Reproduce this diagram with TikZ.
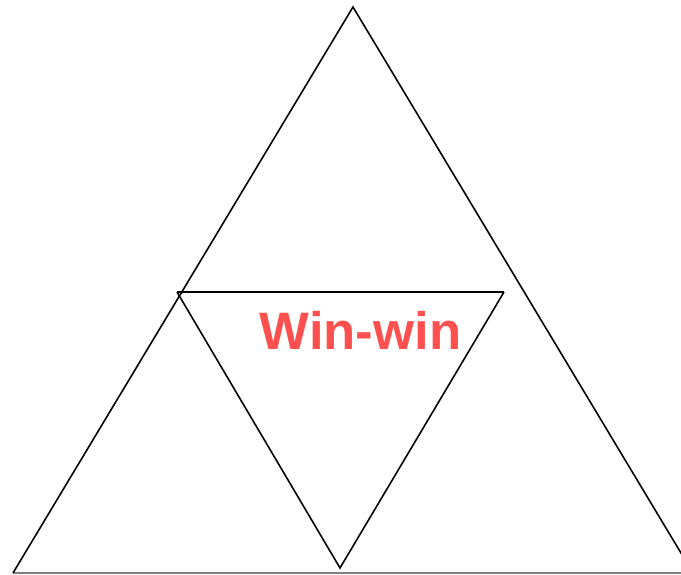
\documentclass[tikz,border=0pt]{standalone}
\usepackage{fontspec}
\setmainfont{Liberation Sans}
\usepackage{xcolor}
\usetikzlibrary{positioning, calc}
\definecolor{winred}{RGB}{255,80,80}

\begin{document}
\begin{tikzpicture}[x=0.02cm, y=-0.02cm]
    % Canvas
    \useasboundingbox (0,0) rectangle (681,575);
    \clip (0,0) rectangle (681,575);

    % Outer triangle vertices
    \coordinate (Top) at (353,7);
    \coordinate (BL) at (13,573);
    \coordinate (BR) at (693,573);

    % Inner triangle vertices
    \coordinate (IL) at (177,292);
    \coordinate (IR) at (504,292);
    \coordinate (IB) at (340,568);

    % Base line
    \draw[gray, line width=0.8pt] (BL) -- (681,573);

    % Outer sides
    \draw[line width=0.9pt] (BL) -- (Top) -- (BR);

    % Inner triangle
    \draw[line width=1.5pt] (IL) -- (IR);
    \draw[line width=0.9pt] (IL) -- (IB) -- (IR);

    % Label
    \node[text=winred, font=\bfseries\fontsize{30}{36}\selectfont, inner sep=0pt] (label) at (360.5,330) {Win-win};
\end{tikzpicture}
\end{document}
